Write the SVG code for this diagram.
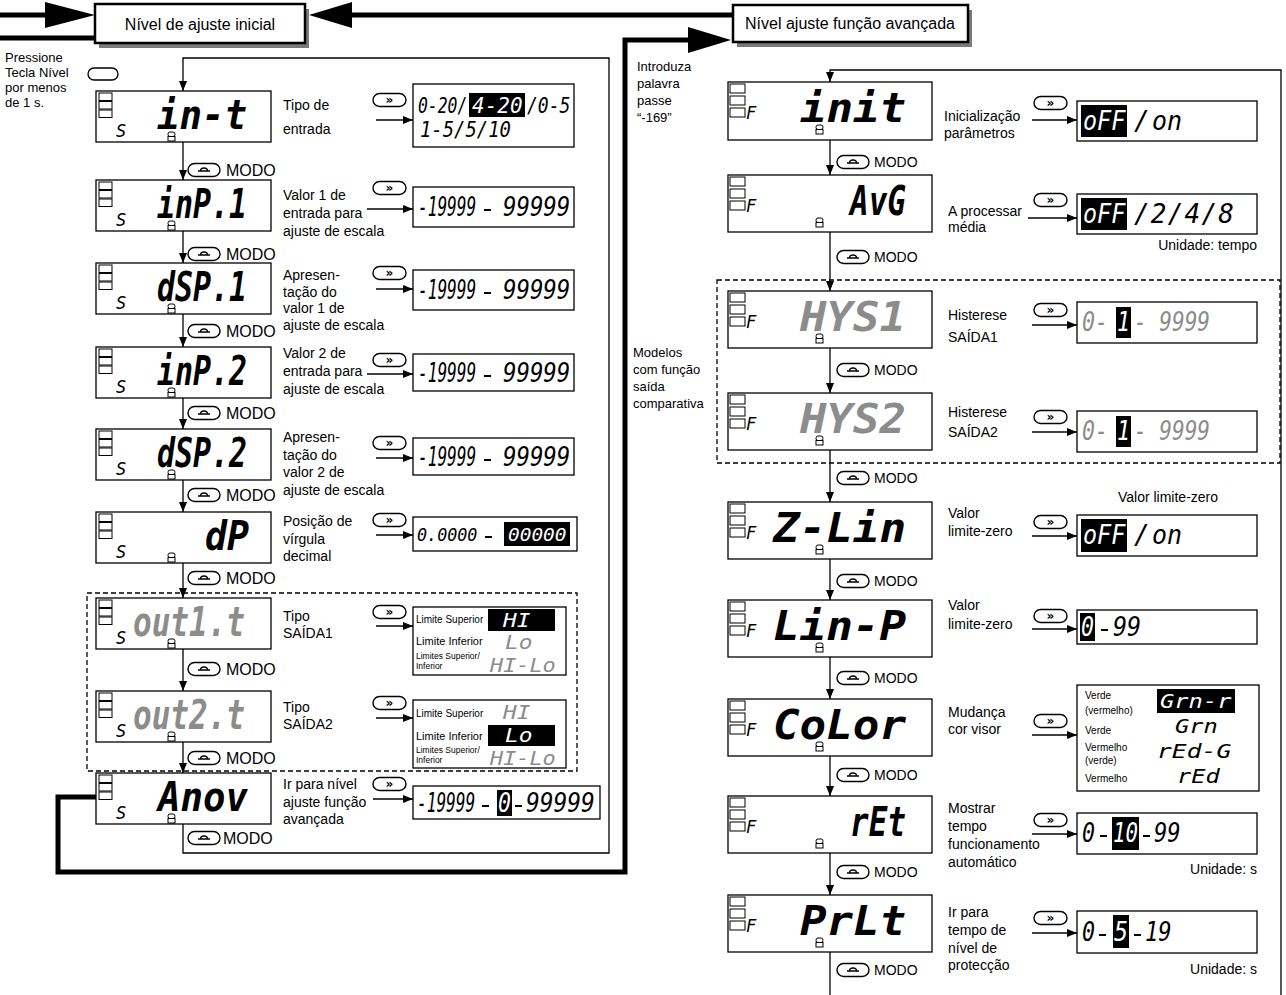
<svg xmlns="http://www.w3.org/2000/svg" width="1286" height="995" viewBox="0 0 1286 995">
<style>
.t{font-family:"Liberation Sans",Arial,sans-serif;font-size:14px;fill:#000}
.m{font-family:"Liberation Sans",Arial,sans-serif;font-size:16px;fill:#000}
.h{font-family:"Liberation Sans",Arial,sans-serif;font-size:16px;fill:#000}
.s{font-family:"Liberation Sans",Arial,sans-serif;font-size:10px;fill:#000}
.s11{font-family:"Liberation Sans",Arial,sans-serif;font-size:11px;fill:#000}
.s13{font-family:"Liberation Sans",Arial,sans-serif;font-size:13px;fill:#000}
.s9{font-family:"Liberation Sans",Arial,sans-serif;font-size:8.5px;fill:#000}
.seg{font-family:"DejaVu Sans Mono",monospace;font-style:oblique;font-weight:bold;font-size:40px;fill:#000}
.sm{font-family:"DejaVu Sans Mono",monospace;font-style:oblique;font-size:17px;fill:#000}
.v{font-family:"DejaVu Sans Mono",monospace;font-style:oblique;font-size:26px;fill:#000}
.v19{font-family:"DejaVu Sans Mono",monospace;font-style:oblique;font-size:19px;fill:#000}
.v21{font-family:"DejaVu Sans Mono",monospace;font-style:oblique;font-size:21px;fill:#000}
.v18{font-family:"DejaVu Sans Mono",monospace;font-style:oblique;font-size:18px;fill:#000}
.g{fill:#8c8c8c}
.w{fill:#fff}
.disp{fill:#fff;stroke:#000;stroke-width:1.3}
.vb{fill:#fff;stroke:#000;stroke-width:1.3}
.thin{fill:none;stroke:#000;stroke-width:1.3}
.thick{fill:none;stroke:#000;stroke-width:5}
.dash{fill:none;stroke:#000;stroke-width:1.3;stroke-dasharray:5 3}
.sq{fill:#fff;stroke:#000;stroke-width:1}
</style>
<defs>
<marker id="a" markerWidth="10" markerHeight="8" refX="10" refY="4" orient="auto" markerUnits="userSpaceOnUse"><path d="M0 0 L10 4 L0 8 Z" fill="#000"/></marker>
<g id="indL"><rect class="sq" x="0" y="0" width="13" height="7.5"/><rect class="sq" x="0" y="8.5" width="13" height="7.5"/><rect class="sq" x="0" y="17" width="13" height="7.5"/></g>
<g id="indR"><rect class="sq" x="0" y="0" width="15" height="9"/><rect class="sq" x="0" y="12" width="15" height="9"/><rect class="sq" x="0" y="24" width="15" height="9"/></g>
<g id="e8"><rect x="0" y="0" width="7" height="4.5" rx="2" fill="none" stroke="#000" stroke-width="1"/><rect x="0" y="4.5" width="7" height="4.5" fill="none" stroke="#000" stroke-width="1"/></g>
<g id="mp"><rect x="0" y="-6.5" width="32" height="13" rx="6.5" fill="#fff" stroke="#000" stroke-width="1.4"/><path d="M10 1 H22 M12.5 1 A3.5 3 0 1 1 19.5 1" fill="none" stroke="#000" stroke-width="1.3"/></g>
<g id="fp"><rect x="0" y="-6.5" width="33" height="13" rx="6.5" fill="#fff" stroke="#000" stroke-width="1.4"/><text x="16.5" y="4" text-anchor="middle" font-family="DejaVu Sans" font-size="12" font-weight="bold">»</text></g>
<path id="dash" d="M0 0 h7" stroke="#000" stroke-width="2"/>
</defs>

<g id="connectors">
<path class="thick" d="M0 15 H52"/>
<polygon points="95,15 45,2 45,28" fill="#000"/>
<path class="thick" d="M0 38 H97"/>
<path class="thick" d="M733 15 H348"/>
<polygon points="309,15 352,2 352,28" fill="#000"/>
<path class="thick" d="M96 797 H58 V872 H625 V40 H695"/>
<polygon points="731,40 688,27 688,53" fill="#000"/>
<path class="thin" d="M183 824 V853 H609 V58 H183 V91" marker-end="url(#a)"/>
<path class="thin" d="M183 142 V180" marker-end="url(#a)"/>
<path class="thin" d="M183 231 V263" marker-end="url(#a)"/>
<path class="thin" d="M183 314 V347" marker-end="url(#a)"/>
<path class="thin" d="M183 398 V429" marker-end="url(#a)"/>
<path class="thin" d="M183 480 V512" marker-end="url(#a)"/>
<path class="thin" d="M183 563 V598" marker-end="url(#a)"/>
<path class="thin" d="M183 649 V691" marker-end="url(#a)"/>
<path class="thin" d="M183 742 V773" marker-end="url(#a)"/>
<path class="thin" d="M376 120 H413" marker-end="url(#a)"/>
<path class="thin" d="M367 209 H413" marker-end="url(#a)"/>
<path class="thin" d="M376 289 H413" marker-end="url(#a)"/>
<path class="thin" d="M367 374 H413" marker-end="url(#a)"/>
<path class="thin" d="M376 458 H413" marker-end="url(#a)"/>
<path class="thin" d="M376 535 H413" marker-end="url(#a)"/>
<path class="thin" d="M376 626 H413" marker-end="url(#a)"/>
<path class="thin" d="M376 718 H413" marker-end="url(#a)"/>
<path class="thin" d="M373 799 H413" marker-end="url(#a)"/>
<path class="thin" d="M1281 995 V70 H830 V82" marker-end="url(#a)"/>
<path class="thin" d="M830 140 V175" marker-end="url(#a)"/>
<path class="thin" d="M830 232 V291" marker-end="url(#a)"/>
<path class="thin" d="M830 348 V393" marker-end="url(#a)"/>
<path class="thin" d="M830 450 V502" marker-end="url(#a)"/>
<path class="thin" d="M830 559 V600" marker-end="url(#a)"/>
<path class="thin" d="M830 657 V699" marker-end="url(#a)"/>
<path class="thin" d="M830 756 V796" marker-end="url(#a)"/>
<path class="thin" d="M830 853 V895" marker-end="url(#a)"/>
<path class="thin" d="M830 952 V995"/>
<path class="thin" d="M1032 120 H1077" marker-end="url(#a)"/>
<path class="thin" d="M1028 218 H1077" marker-end="url(#a)"/>
<path class="thin" d="M1032 325 H1077" marker-end="url(#a)"/>
<path class="thin" d="M1032 432 H1077" marker-end="url(#a)"/>
<path class="thin" d="M1032 536 H1077" marker-end="url(#a)"/>
<path class="thin" d="M1032 629 H1077" marker-end="url(#a)"/>
<path class="thin" d="M1032 735 H1077" marker-end="url(#a)"/>
<path class="thin" d="M1032 834 H1077" marker-end="url(#a)"/>
<path class="thin" d="M1032 933 H1077" marker-end="url(#a)"/>
<rect class="dash" x="87" y="593" width="490" height="178"/>
<rect class="dash" x="717" y="280" width="563" height="183"/>
<use href="#mp" x="188" y="170"/><text class="m" x="226" y="176">MODO</text>
<use href="#mp" x="188" y="254"/><text class="m" x="226" y="260">MODO</text>
<use href="#mp" x="188" y="331"/><text class="m" x="226" y="337">MODO</text>
<use href="#mp" x="188" y="413"/><text class="m" x="226" y="419">MODO</text>
<use href="#mp" x="188" y="495"/><text class="m" x="226" y="501">MODO</text>
<use href="#mp" x="188" y="578"/><text class="m" x="226" y="584">MODO</text>
<use href="#mp" x="188" y="669"/><text class="m" x="226" y="675">MODO</text>
<use href="#mp" x="188" y="758"/><text class="m" x="226" y="764">MODO</text>
<use href="#mp" x="188" y="838"/><text class="m" x="223" y="844">MODO</text>
<use href="#mp" x="837" y="162"/><text class="t" x="874" y="167">MODO</text>
<use href="#mp" x="837" y="257"/><text class="t" x="874" y="262">MODO</text>
<use href="#mp" x="837" y="370"/><text class="t" x="874" y="375">MODO</text>
<use href="#mp" x="837" y="478"/><text class="t" x="874" y="483">MODO</text>
<use href="#mp" x="837" y="581"/><text class="t" x="874" y="586">MODO</text>
<use href="#mp" x="837" y="678"/><text class="t" x="874" y="683">MODO</text>
<use href="#mp" x="837" y="775"/><text class="t" x="874" y="780">MODO</text>
<use href="#mp" x="837" y="872"/><text class="t" x="874" y="877">MODO</text>
<use href="#mp" x="837" y="970"/><text class="t" x="874" y="975">MODO</text>
</g>

<g id="lvl-inicial">
<rect x="99" y="9" width="210" height="39" fill="#7a7a7a"/>
<rect x="95" y="4" width="210" height="39" fill="#fff" stroke="#000" stroke-width="2.5"/>
<text class="h" x="200" y="30" text-anchor="middle">Nível de ajuste inicial</text>
</g>
<g id="lvl-avancada">
<rect x="737" y="10" width="235" height="37" fill="#7a7a7a"/>
<rect x="733" y="5" width="235" height="37" fill="#fff" stroke="#000" stroke-width="2.5"/>
<text class="h" x="850" y="29" text-anchor="middle">Nível ajuste função avançada</text>
</g>

<g id="notes">
<text class="s13" x="5" y="62">Pressione</text>
<text class="s13" x="5" y="77">Tecla Nível</text>
<text class="s13" x="5" y="92">por menos</text>
<text class="s13" x="5" y="107">de 1 s.</text>
<rect x="88" y="68" width="30" height="12" rx="6" fill="#fff" stroke="#000" stroke-width="1.3"/>
<text class="s13" x="637" y="71">Introduza</text>
<text class="s13" x="637" y="88">palavra</text>
<text class="s13" x="637" y="105">passe</text>
<text class="s13" x="637" y="122">“-169”</text>
<text class="s13" x="633" y="357">Modelos</text>
<text class="s13" x="633" y="374">com função</text>
<text class="s13" x="633" y="391">saída</text>
<text class="s13" x="633" y="408">comparativa</text>
</g>

<g id="n-in-t">
<rect class="disp" x="96" y="91" width="175" height="51"/>
<use href="#indL" x="99" y="93"/>
<text class="sm" x="116" y="137">S</text>
<text class="seg" x="157" y="129" textLength="90" lengthAdjust="spacingAndGlyphs">in-t</text>
<use href="#e8" x="168" y="132"/>
<text class="t" x="283" y="110">Tipo de</text>
<text class="t" x="283" y="134">entrada</text>
<use href="#fp" x="373" y="100"/>
<rect class="vb" x="413" y="84" width="161" height="63"/>
<rect x="469" y="93" width="56" height="24" fill="#000"/>
<text class="v21" transform="translate(418 113) scale(0.78 1)">0-20/</text>
<text class="v21 w" transform="translate(472 113) scale(1.0 1)">4-20</text>
<text class="v21" transform="translate(527 113) scale(0.86 1)">/0-5</text>
<text class="v21" transform="translate(420 137) scale(0.9 1)">1-5/5/10</text>
</g>

<g id="n-inP1">
<rect class="disp" x="96" y="180" width="175" height="51"/>
<use href="#indL" x="99" y="182"/>
<text class="sm" x="116" y="226">S</text>
<text class="seg" x="157" y="218" textLength="90" lengthAdjust="spacingAndGlyphs">inP.1</text>
<use href="#e8" x="168" y="221"/>
<text class="t" x="283" y="200">Valor 1 de</text>
<text class="t" x="283" y="218">entrada para</text>
<text class="t" x="283" y="236">ajuste de escala</text>
<use href="#fp" x="373" y="188"/>
<rect class="vb" x="413" y="187" width="161" height="40"/>
<text class="v" transform="translate(418 216) scale(0.62 1)">-19999</text>
<use href="#dash" x="484" y="210"/>
<text class="v" transform="translate(503 216) scale(0.86 1)">99999</text>
</g>

<g id="n-dSP1">
<rect class="disp" x="96" y="263" width="175" height="51"/>
<use href="#indL" x="99" y="265"/>
<text class="sm" x="116" y="309">S</text>
<text class="seg" x="157" y="301" textLength="90" lengthAdjust="spacingAndGlyphs">dSP.1</text>
<use href="#e8" x="168" y="304"/>
<text class="t" x="283" y="280">Apresen-</text>
<text class="t" x="283" y="297">tação do</text>
<text class="t" x="283" y="313">valor 1 de</text>
<text class="t" x="283" y="330">ajuste de escala</text>
<use href="#fp" x="373" y="273"/>
<rect class="vb" x="413" y="270" width="161" height="40"/>
<text class="v" transform="translate(418 299) scale(0.62 1)">-19999</text>
<use href="#dash" x="484" y="293"/>
<text class="v" transform="translate(503 299) scale(0.86 1)">99999</text>
</g>

<g id="n-inP2">
<rect class="disp" x="96" y="347" width="175" height="51"/>
<use href="#indL" x="99" y="349"/>
<text class="sm" x="116" y="393">S</text>
<text class="seg" x="157" y="385" textLength="90" lengthAdjust="spacingAndGlyphs">inP.2</text>
<use href="#e8" x="168" y="388"/>
<text class="t" x="283" y="358">Valor 2 de</text>
<text class="t" x="283" y="376">entrada para</text>
<text class="t" x="283" y="394">ajuste de escala</text>
<use href="#fp" x="373" y="360"/>
<rect class="vb" x="413" y="354" width="161" height="37"/>
<text class="v" transform="translate(418 382) scale(0.62 1)">-19999</text>
<use href="#dash" x="484" y="376"/>
<text class="v" transform="translate(503 382) scale(0.86 1)">99999</text>
</g>

<g id="n-dSP2">
<rect class="disp" x="96" y="429" width="175" height="51"/>
<use href="#indL" x="99" y="431"/>
<text class="sm" x="116" y="475">S</text>
<text class="seg" x="157" y="467" textLength="90" lengthAdjust="spacingAndGlyphs">dSP.2</text>
<use href="#e8" x="168" y="470"/>
<text class="t" x="283" y="442">Apresen-</text>
<text class="t" x="283" y="460">tação do</text>
<text class="t" x="283" y="477">valor 2 de</text>
<text class="t" x="283" y="495">ajuste de escala</text>
<use href="#fp" x="373" y="443"/>
<rect class="vb" x="413" y="438" width="161" height="37"/>
<text class="v" transform="translate(418 466) scale(0.62 1)">-19999</text>
<use href="#dash" x="484" y="460"/>
<text class="v" transform="translate(503 466) scale(0.86 1)">99999</text>
</g>

<g id="n-dP">
<rect class="disp" x="96" y="512" width="175" height="51"/>
<use href="#indL" x="99" y="514"/>
<text class="sm" x="116" y="558">S</text>
<text class="seg" x="205" y="550" textLength="44" lengthAdjust="spacingAndGlyphs">dP</text>
<use href="#e8" x="168" y="553"/>
<text class="t" x="283" y="526">Posição de</text>
<text class="t" x="283" y="544">vírgula</text>
<text class="t" x="283" y="561">decimal</text>
<use href="#fp" x="373" y="520"/>
<rect class="vb" x="413" y="517" width="164" height="34"/>
<rect x="504" y="522" width="66" height="24" fill="#000"/>
<text class="v18" transform="translate(417 541) scale(0.93 1)">0.0000</text>
<use href="#dash" x="485" y="537"/>
<text class="v18 w" transform="translate(508 541) scale(1.08 1)">00000</text>
</g>

<g id="n-out1t">
<rect class="disp" x="96" y="598" width="175" height="51"/>
<use href="#indL" x="99" y="600"/>
<text class="sm" x="116" y="644">S</text>
<text class="seg g" x="133" y="636" textLength="112" lengthAdjust="spacingAndGlyphs">out1.t</text>
<use href="#e8" x="168" y="639"/>
<text class="t" x="283" y="621">Tipo</text>
<text class="t" x="283" y="638">SAÍDA1</text>
<use href="#fp" x="373" y="612"/>
<rect class="vb" x="413" y="607" width="153" height="68"/>
<text class="s" x="416" y="623">Limite Superior</text>
<rect x="488" y="609" width="67" height="22" fill="#000"/>
<text class="v19 w" transform="translate(503 627) scale(1.2 1)">HI</text>
<text class="s11" x="416" y="645">Limite Inferior</text>
<text class="v19 g" transform="translate(505 649) scale(1.2 1)">Lo</text>
<text class="s9" x="416" y="659">Limites Superior/</text>
<text class="s9" x="416" y="669">Inferior</text>
<text class="v19 g" transform="translate(490 672) scale(1.15 1)">HI-Lo</text>
</g>

<g id="n-out2t">
<rect class="disp" x="96" y="691" width="175" height="51"/>
<use href="#indL" x="99" y="693"/>
<text class="sm" x="116" y="737">S</text>
<text class="seg g" x="133" y="729" textLength="112" lengthAdjust="spacingAndGlyphs">out2.t</text>
<use href="#e8" x="168" y="732"/>
<text class="t" x="283" y="712">Tipo</text>
<text class="t" x="283" y="729">SAÍDA2</text>
<use href="#fp" x="373" y="703"/>
<rect class="vb" x="413" y="700" width="153" height="68"/>
<text class="s" x="416" y="717">Limite Superior</text>
<text class="v19 g" transform="translate(503 719) scale(1.2 1)">HI</text>
<rect x="488" y="725" width="67" height="21" fill="#000"/>
<text class="s11" x="416" y="740">Limite Inferior</text>
<text class="v19 w" transform="translate(505 742) scale(1.2 1)">Lo</text>
<text class="s9" x="416" y="753">Limites Superior/</text>
<text class="s9" x="416" y="763">Inferior</text>
<text class="v19 g" transform="translate(490 765) scale(1.15 1)">HI-Lo</text>
</g>

<g id="n-Anov">
<rect class="disp" x="96" y="773" width="175" height="51"/>
<use href="#indL" x="99" y="775"/>
<text class="sm" x="116" y="819">S</text>
<text class="seg" x="158" y="811" textLength="90" lengthAdjust="spacingAndGlyphs">Anov</text>
<use href="#e8" x="168" y="814"/>
<text class="t" x="283" y="789">Ir para nível</text>
<text class="t" x="283" y="807">ajuste função</text>
<text class="t" x="283" y="824">avançada</text>
<use href="#fp" x="373" y="784"/>
<rect class="vb" x="413" y="786" width="187" height="33"/>
<rect x="497" y="790" width="15" height="26" fill="#000"/>
<text class="v" transform="translate(417 812) scale(0.62 1)">-19999</text>
<use href="#dash" x="482" y="806"/>
<text class="v w" transform="translate(498 812) scale(0.83 1)">0</text>
<use href="#dash" x="515" y="806"/>
<text class="v" transform="translate(526 812) scale(0.88 1)">99999</text>
</g>

<g id="n-init">
<rect class="disp" x="728" y="82" width="204" height="58"/>
<use href="#indR" x="730" y="84"/>
<text class="sm" x="746" y="119">F</text>
<text class="seg" x="800" y="122" textLength="106" lengthAdjust="spacingAndGlyphs">init</text>
<use href="#e8" x="816" y="125"/>
<text class="t" x="944" y="121">Inicialização</text>
<text class="t" x="944" y="138">parâmetros</text>
<use href="#fp" x="1034" y="103"/>
<rect class="vb" x="1077" y="101" width="180" height="40"/>
<rect x="1081" y="105" width="46" height="32" fill="#000"/>
<text class="v w" transform="translate(1083 130) scale(0.9 1)">oFF</text>
<text class="v" x="1134" y="130">/</text>
<text class="v" transform="translate(1152 130) scale(0.96 1)">on</text>
</g>

<g id="n-AvG">
<rect class="disp" x="728" y="175" width="204" height="57"/>
<use href="#indR" x="730" y="177"/>
<text class="sm" x="746" y="212">F</text>
<text class="seg" x="850" y="215" textLength="56" lengthAdjust="spacingAndGlyphs">AvG</text>
<use href="#e8" x="816" y="218"/>
<text class="t" x="948" y="216">A processar</text>
<text class="t" x="948" y="232">média</text>
<use href="#fp" x="1034" y="200"/>
<rect class="vb" x="1077" y="194" width="180" height="40"/>
<rect x="1081" y="198" width="46" height="32" fill="#000"/>
<text class="v w" transform="translate(1083 223) scale(0.9 1)">oFF</text>
<text class="v" x="1134" y="223" textLength="100" lengthAdjust="spacing">/2/4/8</text>
<text class="t" x="1257" y="250" text-anchor="end">Unidade: tempo</text>
</g>

<g id="n-HYS1">
<rect class="disp" x="728" y="291" width="204" height="57"/>
<use href="#indR" x="730" y="293"/>
<text class="sm" x="746" y="328">F</text>
<text class="seg g" x="800" y="331" textLength="106" lengthAdjust="spacingAndGlyphs">HYS1</text>
<use href="#e8" x="816" y="334"/>
<text class="t" x="948" y="320">Histerese</text>
<text class="t" x="948" y="342">SAÍDA1</text>
<use href="#fp" x="1034" y="310"/>
<rect class="vb" x="1077" y="302" width="180" height="41"/>
<rect x="1116" y="307" width="15" height="31" fill="#000"/>
<text class="v g" transform="translate(1082 331) scale(0.83 1)">0-</text>
<text class="v w" transform="translate(1117 331) scale(0.83 1)">1</text>
<text class="v g" transform="translate(1134 331) scale(0.81 1)">- 9999</text>
</g>

<g id="n-HYS2">
<rect class="disp" x="728" y="393" width="204" height="57"/>
<use href="#indR" x="730" y="395"/>
<text class="sm" x="746" y="430">F</text>
<text class="seg g" x="800" y="433" textLength="106" lengthAdjust="spacingAndGlyphs">HYS2</text>
<use href="#e8" x="816" y="436"/>
<text class="t" x="948" y="417">Histerese</text>
<text class="t" x="948" y="437">SAÍDA2</text>
<use href="#fp" x="1034" y="417"/>
<rect class="vb" x="1077" y="411" width="180" height="41"/>
<rect x="1116" y="416" width="15" height="31" fill="#000"/>
<text class="v g" transform="translate(1082 440) scale(0.83 1)">0-</text>
<text class="v w" transform="translate(1117 440) scale(0.83 1)">1</text>
<text class="v g" transform="translate(1134 440) scale(0.81 1)">- 9999</text>
</g>

<g id="n-ZLin">
<rect class="disp" x="728" y="502" width="204" height="57"/>
<use href="#indR" x="730" y="504"/>
<text class="sm" x="746" y="539">F</text>
<text class="seg" x="773" y="542" textLength="133" lengthAdjust="spacingAndGlyphs">Z-Lin</text>
<use href="#e8" x="816" y="545"/>
<text class="t" x="948" y="518">Valor</text>
<text class="t" x="948" y="536">limite-zero</text>
<text class="t" x="1168" y="502" text-anchor="middle">Valor limite-zero</text>
<use href="#fp" x="1034" y="522"/>
<rect class="vb" x="1077" y="515" width="180" height="41"/>
<rect x="1081" y="519" width="46" height="33" fill="#000"/>
<text class="v w" transform="translate(1083 544) scale(0.9 1)">oFF</text>
<text class="v" x="1134" y="544">/</text>
<text class="v" transform="translate(1152 544) scale(0.96 1)">on</text>
</g>

<g id="n-LinP">
<rect class="disp" x="728" y="600" width="204" height="57"/>
<use href="#indR" x="730" y="602"/>
<text class="sm" x="746" y="637">F</text>
<text class="seg" x="773" y="640" textLength="133" lengthAdjust="spacingAndGlyphs">Lin-P</text>
<use href="#e8" x="816" y="643"/>
<text class="t" x="948" y="610">Valor</text>
<text class="t" x="948" y="629">limite-zero</text>
<use href="#fp" x="1034" y="616"/>
<rect class="vb" x="1077" y="610" width="180" height="34"/>
<rect x="1080" y="613" width="15" height="28" fill="#000"/>
<text class="v w" transform="translate(1081 636) scale(0.83 1)">0</text>
<use href="#dash" x="1101" y="630"/>
<text class="v" transform="translate(1113 636) scale(0.9 1)">99</text>
</g>

<g id="n-CoLor">
<rect class="disp" x="728" y="699" width="204" height="57"/>
<use href="#indR" x="730" y="701"/>
<text class="sm" x="746" y="736">F</text>
<text class="seg" x="773" y="739" textLength="133" lengthAdjust="spacingAndGlyphs">CoLor</text>
<use href="#e8" x="816" y="742"/>
<text class="t" x="948" y="717">Mudança</text>
<text class="t" x="948" y="734">cor visor</text>
<use href="#fp" x="1034" y="721"/>
<rect class="vb" x="1077" y="685" width="182" height="106"/>
<text class="s" x="1085" y="699">Verde</text>
<text class="s" x="1085" y="714">(vermelho)</text>
<rect x="1157" y="689" width="78" height="24" fill="#000"/>
<text class="v19 w" transform="translate(1160 708) scale(1.25 1)">Grn-r</text>
<text class="s" x="1085" y="734">Verde</text>
<text class="v19" transform="translate(1175 733) scale(1.25 1)">Grn</text>
<text class="s" x="1085" y="751">Vermelho</text>
<text class="s" x="1085" y="764">(verde)</text>
<text class="v19" transform="translate(1157 758) scale(1.3 1)">rEd-G</text>
<text class="s" x="1085" y="782">Vermelho</text>
<text class="v19" transform="translate(1177 783) scale(1.25 1)">rEd</text>
</g>

<g id="n-rEt">
<rect class="disp" x="728" y="796" width="204" height="57"/>
<use href="#indR" x="730" y="798"/>
<text class="sm" x="746" y="833">F</text>
<text class="seg" x="850" y="836" textLength="56" lengthAdjust="spacingAndGlyphs">rEt</text>
<use href="#e8" x="816" y="839"/>
<text class="t" x="948" y="813">Mostrar</text>
<text class="t" x="948" y="831">tempo</text>
<text class="t" x="948" y="849">funcionamento</text>
<text class="t" x="948" y="867">automático</text>
<use href="#fp" x="1034" y="820"/>
<rect class="vb" x="1077" y="813" width="180" height="41"/>
<rect x="1112" y="817" width="27" height="33" fill="#000"/>
<text class="v" transform="translate(1082 842) scale(0.83 1)">0</text>
<use href="#dash" x="1100" y="836"/>
<text class="v w" transform="translate(1113 842) scale(0.8 1)">10</text>
<use href="#dash" x="1143" y="836"/>
<text class="v" transform="translate(1154 842) scale(0.85 1)">99</text>
<text class="t" x="1257" y="874" text-anchor="end">Unidade: s</text>
</g>

<g id="n-PrLt">
<rect class="disp" x="728" y="895" width="204" height="57"/>
<use href="#indR" x="730" y="897"/>
<text class="sm" x="746" y="932">F</text>
<text class="seg" x="800" y="935" textLength="106" lengthAdjust="spacingAndGlyphs">PrLt</text>
<use href="#e8" x="816" y="938"/>
<text class="t" x="948" y="917">Ir para</text>
<text class="t" x="948" y="935">tempo de</text>
<text class="t" x="948" y="953">nível de</text>
<text class="t" x="948" y="970">protecção</text>
<use href="#fp" x="1034" y="918"/>
<rect class="vb" x="1077" y="911" width="180" height="42"/>
<rect x="1113" y="915" width="16" height="33" fill="#000"/>
<text class="v" transform="translate(1082 941) scale(0.83 1)">0</text>
<use href="#dash" x="1099" y="935"/>
<text class="v w" transform="translate(1114 941) scale(0.9 1)">5</text>
<use href="#dash" x="1134" y="935"/>
<text class="v" transform="translate(1145 941) scale(0.85 1)">19</text>
<text class="t" x="1257" y="974" text-anchor="end">Unidade: s</text>
</g>
</svg>
